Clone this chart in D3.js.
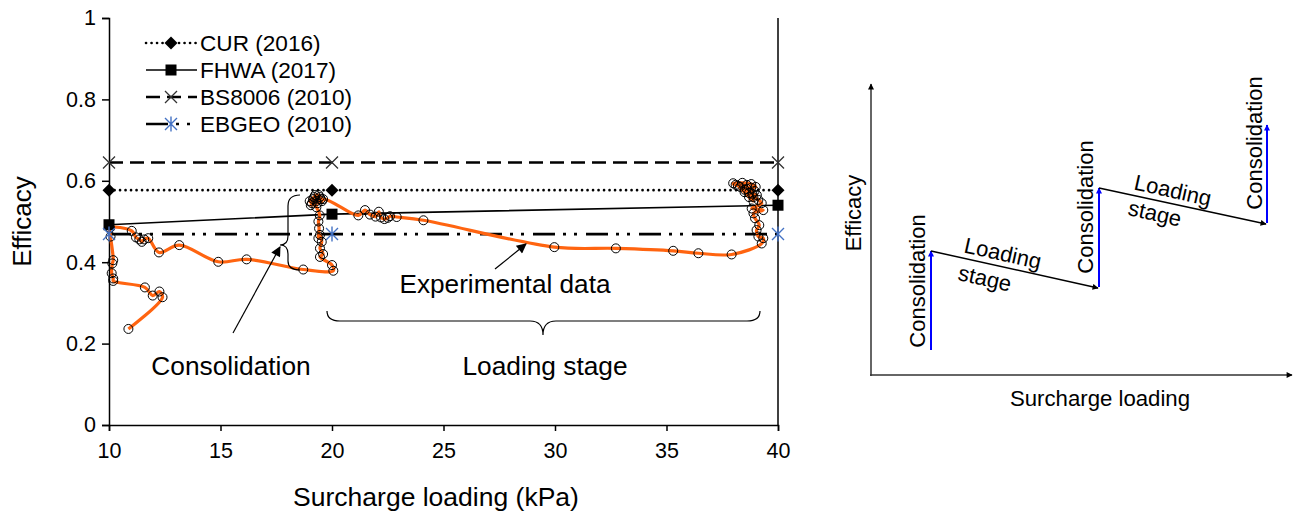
<!DOCTYPE html>
<html>
<head>
<meta charset="utf-8">
<script src="https://cdn.jsdelivr.net/npm/d3@7"></script>
<style>
  body { margin: 0; background: #fff; }
  text { font-family: "Liberation Sans", Arial, sans-serif; fill: #000; }
</style>
</head>
<body>
<svg id="chart" width="1295" height="513"></svg>
<script>
// design-method lines, read at the three load steps
var loads = [10, 20, 40];
var curVals = [0.577, 0.577, 0.577];
var fhwaVals = [0.492, 0.518, 0.540];
var bsVals = [0.645, 0.645, 0.645];
var ebgeoVals = [0.469, 0.469, 0.469];

// measured efficacy (surcharge kPa, efficacy), in test order
var expLoad = [10.87, 12.40, 12.26, 11.96, 11.61, 10.19, 10.19, 10.12, 10.15, 10.19, 10.07, 10.04,
  11.02, 11.21, 11.36, 11.47, 11.58, 11.76, 12.24, 13.15, 14.90, 16.17, 18.71, 20.06, 20.00,
  19.46, 19.60, 19.46, 19.54, 19.46, 19.39, 19.42, 19.39, 19.45, 19.30, 19.10, 19.00, 19.20,
  19.40, 19.50, 19.30, 19.15, 19.35, 19.55, 19.25, 19.45, 19.05, 19.60,
  21.18, 21.48, 21.70, 21.95, 22.10, 22.20, 22.35, 22.50, 22.60, 22.90, 24.10, 29.97, 32.73,
  35.30, 36.43, 37.92, 39.27, 39.34, 39.12, 39.04, 39.16, 38.97, 38.90, 39.34, 38.82, 39.27,
  39.12, 38.90, 38.70, 38.95, 38.50, 38.80, 38.30, 38.60, 38.10, 37.99, 38.40, 38.80, 39.00,
  38.60, 38.85, 39.05, 38.70, 38.90, 38.20, 38.50];
var expEff = [0.236, 0.314, 0.328, 0.318, 0.338, 0.354, 0.360, 0.373, 0.397, 0.405, 0.463, 0.484,
  0.477, 0.461, 0.456, 0.450, 0.456, 0.459, 0.424, 0.442, 0.401, 0.407, 0.382, 0.379, 0.393,
  0.413, 0.420, 0.434, 0.450, 0.467, 0.459, 0.483, 0.500, 0.515, 0.535, 0.545, 0.550, 0.560,
  0.565, 0.555, 0.550, 0.555, 0.545, 0.550, 0.565, 0.560, 0.540, 0.555,
  0.515, 0.528, 0.517, 0.512, 0.524, 0.510, 0.506, 0.509, 0.513, 0.511, 0.503, 0.437, 0.434,
  0.428, 0.422, 0.419, 0.446, 0.459, 0.463, 0.479, 0.491, 0.508, 0.520, 0.528, 0.532, 0.545,
  0.553, 0.560, 0.570, 0.575, 0.578, 0.583, 0.585, 0.590, 0.590, 0.594, 0.595, 0.592, 0.585,
  0.580, 0.568, 0.565, 0.560, 0.550, 0.588, 0.572];

var xTicks = [10, 15, 20, 25, 30, 35, 40];
var yTicks = [0, 0.2, 0.4, 0.6, 0.8, 1];

var svg = d3.select("#chart");

var x = d3.scaleLinear().domain([10, 40]).range([109, 778]),
  y = d3.scaleLinear().domain([0, 1]).range([425, 18]);

var defs = svg.append("defs");
defs.append("marker")
  .attr("id", "head")
  .attr("viewBox", "0 0 10 10")
  .attr("refX", 9).attr("refY", 5)
  .attr("markerWidth", 12).attr("markerHeight", 10)
  .attr("markerUnits", "userSpaceOnUse")
  .attr("orient", "auto")
  .append("path").attr("d", "M0,0L10,5L0,10z").attr("fill", "#000");
defs.append("marker")
  .attr("id", "small")
  .attr("viewBox", "0 0 10 10")
  .attr("refX", 9).attr("refY", 5)
  .attr("markerWidth", 8).attr("markerHeight", 6)
  .attr("markerUnits", "userSpaceOnUse")
  .attr("orient", "auto")
  .append("path").attr("d", "M0,0L10,5L0,10z").attr("fill", "#000");
defs.append("marker")
  .attr("id", "blue")
  .attr("viewBox", "0 0 10 10")
  .attr("refX", 9).attr("refY", 5)
  .attr("markerWidth", 8).attr("markerHeight", 6)
  .attr("markerUnits", "userSpaceOnUse")
  .attr("orient", "auto")
  .append("path").attr("d", "M0,0L10,5L0,10z").attr("fill", "#0000ff");

// axes
svg.append("g")
  .attr("transform", "translate(0," + y(0) + ")")
  .call(d3.axisBottom(x).tickValues(xTicks).tickSize(6).tickPadding(12))
  .call(function(g) {
    g.selectAll("text").style("font-size", "21.5px");
    g.selectAll("line,path").attr("stroke", "#000").attr("stroke-width", 1.5);
  });

svg.append("g")
  .attr("transform", "translate(" + x(10) + ",0)")
  .call(d3.axisLeft(y).tickValues(yTicks).tickSize(7).tickPadding(6)
    .tickFormat(function(d) { return d === 0 || d === 1 ? d : d3.format(".1f")(d); }))
  .call(function(g) {
    g.selectAll("text").style("font-size", "21.5px");
    g.selectAll("line,path").attr("stroke", "#000").attr("stroke-width", 1.5);
  });

svg.append("line")
  .attr("x1", x(40)).attr("x2", x(40))
  .attr("y1", y(1)).attr("y2", y(0))
  .attr("stroke", "#000").attr("stroke-width", 1.5);

svg.append("text")
  .attr("x", 436).attr("y", 506)
  .attr("text-anchor", "middle")
  .style("font-size", "26.5px")
  .text("Surcharge loading (kPa)");

svg.append("text")
  .attr("transform", "translate(31," + y(0.5) + ") rotate(-90)")
  .attr("text-anchor", "middle")
  .style("font-size", "26px")
  .text("Efficacy");

// marker shapes
function drawMarker(g, kind, cx, cy) {
  if (kind === "diamond") {
    g.append("path").attr("d", "M" + cx + "," + (cy - 6.5) + "L" + (cx + 6.5) + "," + cy + "L" + cx + "," + (cy + 6.5) + "L" + (cx - 6.5) + "," + cy + "Z")
      .attr("fill", "#000");
  } else if (kind === "square") {
    g.append("rect").attr("x", cx - 5.5).attr("y", cy - 5.5).attr("width", 11).attr("height", 11).attr("fill", "#000");
  } else if (kind === "cross") {
    g.append("path").attr("d", "M" + (cx - 6) + "," + (cy - 6) + "L" + (cx + 6) + "," + (cy + 6) + "M" + (cx - 6) + "," + (cy + 6) + "L" + (cx + 6) + "," + (cy - 6))
      .attr("stroke", "#333").attr("stroke-width", 1.3);
  } else {
    g.append("path").attr("d", "M" + (cx - 6) + "," + (cy - 6) + "L" + (cx + 6) + "," + (cy + 6) + "M" + (cx - 6) + "," + (cy + 6) + "L" + (cx + 6) + "," + (cy - 6) + "M" + cx + "," + (cy - 7.5) + "L" + cx + "," + (cy + 7.5))
      .attr("stroke", "#4472c4").attr("stroke-width", 1.4);
  }
}

var methods = [
  { name: "CUR (2016)", vals: curVals, dash: "0.1,5.4", width: 2.6, cap: "round", marker: "diamond" },
  { name: "FHWA (2017)", vals: fhwaVals, dash: null, width: 1.6, cap: "butt", marker: "square" },
  { name: "BS8006 (2010)", vals: bsVals, dash: "14,7", width: 2.6, cap: "butt", marker: "cross" },
  { name: "EBGEO (2010)", vals: ebgeoVals, dash: "22,8,3,8,3,9", width: 2.6, cap: "butt", marker: "star" }
];

var line = d3.line()
  .x(function(d) { return x(d[0]); })
  .y(function(d) { return y(d[1]); });

var exp = expLoad.map(function(v, i) { return [v, expEff[i]]; });

methods.forEach(function(m) {
  var pts = loads.map(function(l, i) { return [l, m.vals[i]]; });
  svg.append("path")
    .datum(pts)
    .attr("d", line)
    .attr("fill", "none")
    .attr("stroke", "#000")
    .attr("stroke-width", m.width)
    .attr("stroke-linecap", m.cap)
    .attr("stroke-dasharray", m.dash);
});

svg.append("path")
  .datum(exp)
  .attr("d", line.curve(d3.curveCatmullRom.alpha(0.5)))
  .attr("fill", "none")
  .attr("stroke", "#ff6410")
  .attr("stroke-width", 3.2);
line.curve(d3.curveLinear);

svg.append("g")
  .selectAll("circle")
  .data(exp)
  .enter()
  .append("circle")
  .attr("cx", function(d) { return x(d[0]); })
  .attr("cy", function(d) { return y(d[1]); })
  .attr("r", 4.5)
  .attr("fill", "none")
  .attr("stroke", "#000")
  .attr("stroke-width", 1);

methods.forEach(function(m) {
  var g = svg.append("g");
  loads.forEach(function(l, i) { drawMarker(g, m.marker, x(l), y(m.vals[i])); });
});

// legend
methods.forEach(function(m, i) {
  var ly = 43 + i * 27;
  var g = svg.append("g");
  g.append("line")
    .attr("x1", 146).attr("x2", 197).attr("y1", ly).attr("y2", ly)
    .attr("stroke", "#000")
    .attr("stroke-width", m.width)
    .attr("stroke-linecap", m.cap)
    .attr("stroke-dasharray", m.dash);
  drawMarker(g, m.marker, 171, ly);
  g.append("text")
    .attr("x", 200).attr("y", ly).attr("dy", "0.36em")
    .style("font-size", "22.6px")
    .text(m.name);
});

// annotations on the measured curve
svg.append("path")
  .attr("d", "M300,195 Q288,195 288,206 L288,236 Q288,245 280,245 Q288,245 288,254 L288,261 Q288,270 300,270")
  .attr("fill", "none").attr("stroke", "#000").attr("stroke-width", 1.2);
svg.append("line")
  .attr("x1", 233).attr("y1", 333).attr("x2", 280).attr("y2", 247)
  .attr("stroke", "#000").attr("stroke-width", 1.2)
  .attr("marker-end", "url(#head)");
svg.append("text")
  .attr("x", 231).attr("y", 366).attr("dy", "0.36em")
  .attr("text-anchor", "middle")
  .style("font-size", "26.3px")
  .text("Consolidation");

svg.append("line")
  .attr("x1", 495).attr("y1", 269).attr("x2", 526).attr("y2", 244)
  .attr("stroke", "#000").attr("stroke-width", 1.2)
  .attr("marker-end", "url(#head)");
svg.append("text")
  .attr("x", 505).attr("y", 284).attr("dy", "0.36em")
  .attr("text-anchor", "middle")
  .style("font-size", "26.2px")
  .text("Experimental data");

svg.append("path")
  .attr("d", "M327,311 Q327,321 340,321 L530,321 Q543,321 543,335 Q543,321 556,321 L747,321 Q760,321 760,311")
  .attr("fill", "none").attr("stroke", "#000").attr("stroke-width", 1.2);
svg.append("text")
  .attr("x", 545).attr("y", 366).attr("dy", "0.36em")
  .attr("text-anchor", "middle")
  .style("font-size", "26.3px")
  .text("Loading stage");

// schematic on the right
var sk = svg.append("g");
sk.append("line").attr("x1", 871).attr("y1", 376).attr("x2", 871).attr("y2", 84)
  .attr("stroke", "#333").attr("stroke-width", 1.5).attr("marker-end", "url(#small)");
sk.append("line").attr("x1", 870).attr("y1", 375).attr("x2", 1292).attr("y2", 375)
  .attr("stroke", "#333").attr("stroke-width", 1.5).attr("marker-end", "url(#small)");
sk.append("text")
  .attr("transform", "translate(853,213) rotate(-90)")
  .attr("dy", "0.36em")
  .attr("text-anchor", "middle")
  .style("font-size", "22px")
  .text("Efficacy");
sk.append("text")
  .attr("x", 1100).attr("y", 398).attr("dy", "0.36em")
  .attr("text-anchor", "middle")
  .style("font-size", "22.2px")
  .text("Surcharge loading");

var rises = [[931, 350, 251], [1099, 287, 188], [1267, 223, 125]];
rises.forEach(function(r) {
  sk.append("line").attr("x1", r[0]).attr("y1", r[1]).attr("x2", r[0]).attr("y2", r[2])
    .attr("stroke", "#0000ff").attr("stroke-width", 2).attr("marker-end", "url(#blue)");
});
var drops = [[931, 251, 1098, 288], [1099, 188, 1266, 224]];
drops.forEach(function(d) {
  sk.append("line").attr("x1", d[0]).attr("y1", d[1]).attr("x2", d[2]).attr("y2", d[3])
    .attr("stroke", "#000").attr("stroke-width", 1.5).attr("marker-end", "url(#small)");
});
var consLabels = [[917, 281], [1085, 207], [1254, 143]];
consLabels.forEach(function(c) {
  sk.append("text")
    .attr("transform", "translate(" + c[0] + "," + c[1] + ") rotate(-90)")
    .attr("dy", "0.36em")
    .attr("text-anchor", "middle")
    .style("font-size", "22px")
    .text("Consolidation");
});
var loadLabels = [[1003, 253, "Loading"], [985, 278, "stage"], [1173, 190, "Loading"], [1155, 213, "stage"]];
loadLabels.forEach(function(c) {
  sk.append("text")
    .attr("transform", "translate(" + c[0] + "," + c[1] + ") rotate(12.6)")
    .attr("dy", "0.36em")
    .attr("text-anchor", "middle")
    .style("font-size", "22px")
    .text(c[2]);
});
</script>
</body>
</html>
